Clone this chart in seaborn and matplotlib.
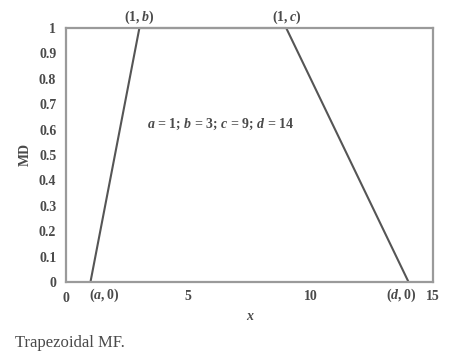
import pandas as pd
import seaborn as sns
import matplotlib.pyplot as plt

# trapezoid parametreleri
a, b, c, d = 1, 3, 9, 14
x_vals = [a, b, c, d]
md_vals = [0, 1, 1, 0]
x_ticks = [0, 5, 10, 15]
y_ticks = [0, 0.1, 0.2, 0.3, 0.4, 0.5, 0.6, 0.7, 0.8, 0.9, 1]
y_tick_labels = ['0', '0.1', '0.2', '0.3', '0.4', '0.5', '0.6', '0.7', '0.8', '0.9', '1']

df = pd.DataFrame({'x': x_vals, 'MD': md_vals})

sns.set_style('white')
plt.rcParams['font.family'] = ['Liberation Serif', 'DejaVu Serif']
plt.rcParams['mathtext.fontset'] = 'custom'
plt.rcParams['mathtext.rm'] = 'Liberation Serif:bold'
plt.rcParams['mathtext.it'] = 'Liberation Serif:italic:bold'
plt.rcParams['mathtext.bf'] = 'Liberation Serif:bold'

txt = '#4a4a4a'
spine_col = '#9a9a9a'
fs = 10

fig = plt.figure(figsize=(4.52, 3.59), dpi=100)
ax = fig.add_axes([0.146, 0.2145, 0.812, 0.7075])

sns.lineplot(data=df, x='x', y='MD', ax=ax, color='#555555', linewidth=1.5,
             sort=False, clip_on=False, zorder=2)

ax.set_xlim(0, 15)
ax.set_ylim(0, 1)
ax.set_xticks(x_ticks)
ax.set_xticklabels(['', '5', '10', '15'])
ax.set_yticks(y_ticks)
ax.set_yticklabels(y_tick_labels)

for s in ax.spines.values():
    s.set_color(spine_col)
    s.set_linewidth(1.6)
    s.set_zorder(3)

ax.tick_params(axis='y', direction='out', length=4, width=1.2, color=spine_col,
               labelsize=fs, labelcolor=txt, pad=3)
ax.tick_params(axis='x', direction='inout', length=5, width=1.2, color=spine_col,
               labelsize=fs, labelcolor=txt, pad=3)
for lab in ax.get_xticklabels() + ax.get_yticklabels():
    lab.set_fontweight('bold')

ax.set_xlabel('x', fontstyle='italic', fontweight='bold', color=txt, fontsize=10, labelpad=5)
ax.set_ylabel('MD', fontweight='bold', color=txt, fontsize=10, labelpad=5)

# nokta etiketleri
ax.text(0, -0.04, '0', ha='center', va='top', fontsize=fs, fontweight='bold', color=txt)
ax.text(a + 0.55, -0.02, r'$(a, 0)$', ha='center', va='top', fontsize=fs, color=txt)
ax.text(d - 0.3, -0.02, r'$(d, 0)$', ha='center', va='top', fontsize=fs, color=txt)
ax.text(b, 1.008, r'$(1, b)$', ha='center', va='bottom', fontsize=fs, color=txt)
ax.text(c, 1.008, r'$(1, c)$', ha='center', va='bottom', fontsize=fs, color=txt)
ax.text(6.3, 0.62, r'$a$ = 1; $b$ = 3; $c$ = 9; $d$ = 14', ha='center', va='center',
        fontsize=fs, fontweight='bold', color=txt)

fig.text(0.033, 0.045, 'Trapezoidal MF.', ha='left', va='center', fontsize=12, color=txt)

fig.savefig('out.png', dpi=100)
